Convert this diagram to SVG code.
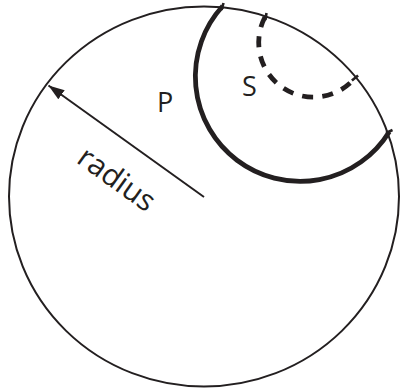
<svg xmlns="http://www.w3.org/2000/svg" width="401" height="390" viewBox="0 0 401 390">
<style>
.thin{fill:none;stroke:#231f20;stroke-width:2}
.thick{fill:none;stroke:#231f20;stroke-width:4.8}
.dash{fill:none;stroke:#231f20;stroke-width:4.8;stroke-dasharray:11 9.2}
.tick{stroke:#231f20;stroke-width:2.6}
.lbl{font-family:"Open Sans","Noto Sans",sans-serif;font-size:27px;fill:#231f20}
.rad{font-size:30px}
</style>
<defs>
<marker id="ah" viewBox="0 0 16 11" refX="16" refY="5.5" markerWidth="16" markerHeight="11" markerUnits="userSpaceOnUse" orient="auto">
<path d="M0,0 L16,5.5 L0,11 Z" fill="#231f20"/>
</marker>
</defs>
<g id="circle">
<ellipse class="thin" cx="204" cy="196.5" rx="195" ry="190"/>
</g>
<g id="P">
<path class="thick" d="M222.7,6 A104.8,104.8 0 1 0 389.3,131.7"/>
<text class="lbl" x="157" y="112">P</text>
</g>
<g id="S">
<path class="dash" d="M265,17 A54.7,54.7 0 0 0 355,78"/>
<text class="lbl" x="242" y="96">S</text>
</g>
<g id="connectors">
<line class="thin" x1="204" y1="197" x2="48.5" y2="85.5" marker-end="url(#ah)"/>
<line class="tick" x1="221.5" y1="10" x2="223.5" y2="3"/>
<line class="tick" x1="265.3" y1="20" x2="266.5" y2="13"/>
<line class="tick" x1="351.9" y1="80.6" x2="358.1" y2="75.4"/>
<line class="tick" x1="386" y1="133" x2="392.5" y2="130"/>
</g>
<g id="radius-label">
<text class="lbl rad" text-anchor="middle" transform="translate(116,180) rotate(35.7)" y="9">radius</text>
</g>
</svg>
